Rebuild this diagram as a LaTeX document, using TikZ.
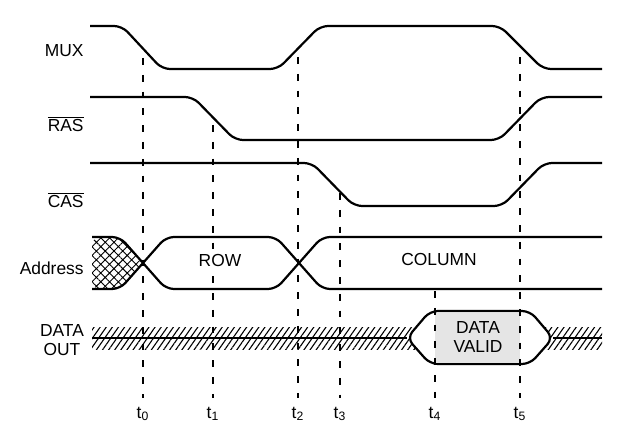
\documentclass[tikz,border=0pt]{standalone}
\usepackage{fontspec}
\setmainfont{Liberation Sans}
\usetikzlibrary{patterns.meta}

\begin{document}
\begin{tikzpicture}[x=0.5pt,y=-0.5pt,
    sig/.style={line width=1.1pt, rounded corners=4pt},
    timing/.style={dash pattern=on 3.4pt off 5pt, line width=0.55pt},
    txt/.style={inner sep=0pt, align=center, font=\fontsize{8.7}{9.7}\selectfont},
    lbl/.style={txt, anchor=east},
    tlbl/.style={txt, anchor=north, outer sep=4.5pt}]
    \useasboundingbox[fill=white] (0,0) rectangle (637,444);

    \node[lbl] (mux) at (84,51) {MUX};
    \node[lbl] (ras) at (84,124) {$\overline{\hbox{RAS}}$};
    \node[lbl] (cas) at (84,200) {$\overline{\hbox{CAS}}$};
    \node[lbl] (addr) at (84,268) {Address};
    \node[txt] (dout) at (62,340) {DATA\\OUT};

    \draw[sig] (90,26) -- (122,26) -- (162,69) -- (278,69) -- (320,26) -- (500,26) -- (543,69) -- (602,69);
    \draw[sig] (90,97) -- (193,97) -- (235,140) -- (499,140) -- (541,97) -- (602,97);
    \draw[sig] (90,163) -- (312,163) -- (354,206) -- (502,206) -- (544,163) -- (602,163);

    \fill[rounded corners=4pt, pattern={Hatch[angle=45,distance=3.1pt,line width=0.45pt]}]
        (92,237) -- (120,237) -- (143,263) -- (120,289) -- (92,289) -- cycle;
    \draw[sig] (92,237) -- (120,237) -- (166,289) -- (276,289) -- (322,237) -- (602,237);
    \draw[sig] (92,289) -- (120,289) -- (166,237) -- (276,237) -- (322,289) -- (602,289);

    \fill[pattern={Lines[angle=55,distance=2.5pt,line width=0.55pt]}] (92,327) rectangle (602,349);
    \draw[sig, fill=white] (407,338) -- (430,311) -- (530,311) -- (553,338) -- (530,364) -- (430,364) -- cycle;
    \fill[gray!20] (435,312.5) rectangle (520,362.5);
    \draw[sig] (92,338) -- (407,338);
    \draw[sig] (553,338) -- (602,338);

    \foreach \x/\y/\i in {143/58/0, 213/125/1, 298/57/2, 340/193/3, 435/291/4, 520/57/5} {
        \node[tlbl] (t\i) at (\x,398) {t\textsubscript{\i}};
        \draw[timing] (\x,\y) -- (t\i.north);
    }

    \node[txt, fill=white, inner sep=2pt] (row) at (220,261) {ROW};
    \node[txt] (col) at (439,260) {COLUMN};
    \node[txt] (valid) at (478,337) {DATA\\VALID};
\end{tikzpicture}
\end{document}
